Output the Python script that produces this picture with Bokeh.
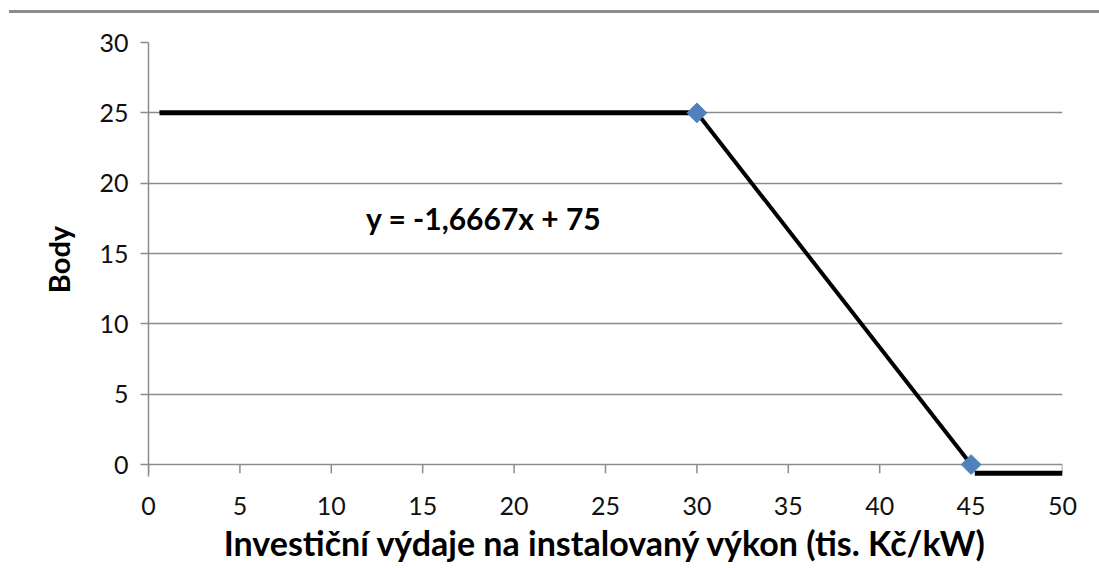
import math
from bokeh.plotting import figure
from bokeh.models import Range1d, Div, Label, FixedTicker
from bokeh.layouts import column
from bokeh.embed import file_html
from bokeh.resources import INLINE

# data
flat_x = [0.6, 30]
flat_y = [25, 25]
slope_x = [30, 45]
slope_y = [25, 0]
low_x = [45.2, 50]
low_y = [-0.62, -0.62]
marker_x = [30, 45]
marker_y = [25, 0]
x_ticks = [0, 5, 10, 15, 20, 25, 30, 35, 40, 45, 50]
y_ticks = [0, 5, 10, 15, 20, 25, 30]
equation = "y = -1,6667x + 75"
x_title = "Investiční výdaje na instalovaný výkon (tis. Kč/kW)"
y_title = "Body"

FONT = "Lato"
GRAY = "#8c8c8c"
Y_MIN = -0.85
TICK_LEN = -0.62  # tick mark length in data units below the zero line

p = figure(frame_width=914, frame_height=434, output_backend="svg", toolbar_location=None,
           x_range=Range1d(0, 50), y_range=Range1d(Y_MIN, 30),
           min_border_left=148, min_border_right=30, min_border_top=29, min_border_bottom=0)
p.outline_line_color = None
p.xgrid.grid_line_color = None
p.ygrid.grid_line_color = GRAY
p.ygrid.grid_line_width = 1.5
p.ygrid.ticker = FixedTicker(ticks=y_ticks)

for ax in (p.xaxis[0], p.yaxis[0]):
    ax.axis_line_color = GRAY
    ax.axis_line_width = 1.5
    ax.major_tick_line_color = GRAY
    ax.major_tick_line_width = 1.5
    ax.major_tick_out = 8
    ax.major_tick_in = 0
    ax.minor_tick_line_color = None
    ax.major_label_text_font = FONT
    ax.major_label_text_font_size = "25px"
    ax.major_label_text_color = "#111111"
    ax.axis_label_text_font = FONT
    ax.axis_label_text_font_style = "bold"
    ax.axis_label_text_color = "#000000"

p.xaxis.ticker = FixedTicker(ticks=x_ticks)
p.yaxis.ticker = FixedTicker(ticks=y_ticks)
# x axis line is the zero gridline; ticks drawn at y=0 below
p.xaxis.axis_line_color = None
p.xaxis.major_tick_line_color = None
p.xaxis.axis_label = x_title
p.yaxis.axis_label = y_title
p.xaxis.axis_label_text_font_size = "34px"
p.yaxis.axis_label_text_font_size = "29px"
p.xaxis.major_label_standoff = 12
p.yaxis.major_label_standoff = 12
p.xaxis.axis_label_standoff = 4
p.yaxis.axis_label_standoff = 20

p.segment(x0=x_ticks, y0=[0] * len(x_ticks), x1=x_ticks, y1=[TICK_LEN] * len(x_ticks),
          line_color=GRAY, line_width=1.5)

p.line(flat_x, flat_y, line_color="black", line_width=5)
p.line(slope_x, slope_y, line_color="black", line_width=4)
p.line(low_x, low_y, line_color="black", line_width=5)
p.scatter(marker_x, marker_y, marker="square", size=14, angle=math.pi / 4,
          fill_color="#4F81BD", line_color="#4F81BD")

p.add_layout(Label(x=11.9, y=17.5, text=equation, text_font=FONT, text_font_size="30px",
                   text_font_style="bold", text_color="#000000", text_baseline="middle"))

top = Div(text="", width=1090, height=3, margin=(10, 0, 0, 9),
          styles={"background-color": "#8c8c8c"})

layout = column(top, p, spacing=0)
open("out.html", "w").write(file_html(layout, INLINE))
